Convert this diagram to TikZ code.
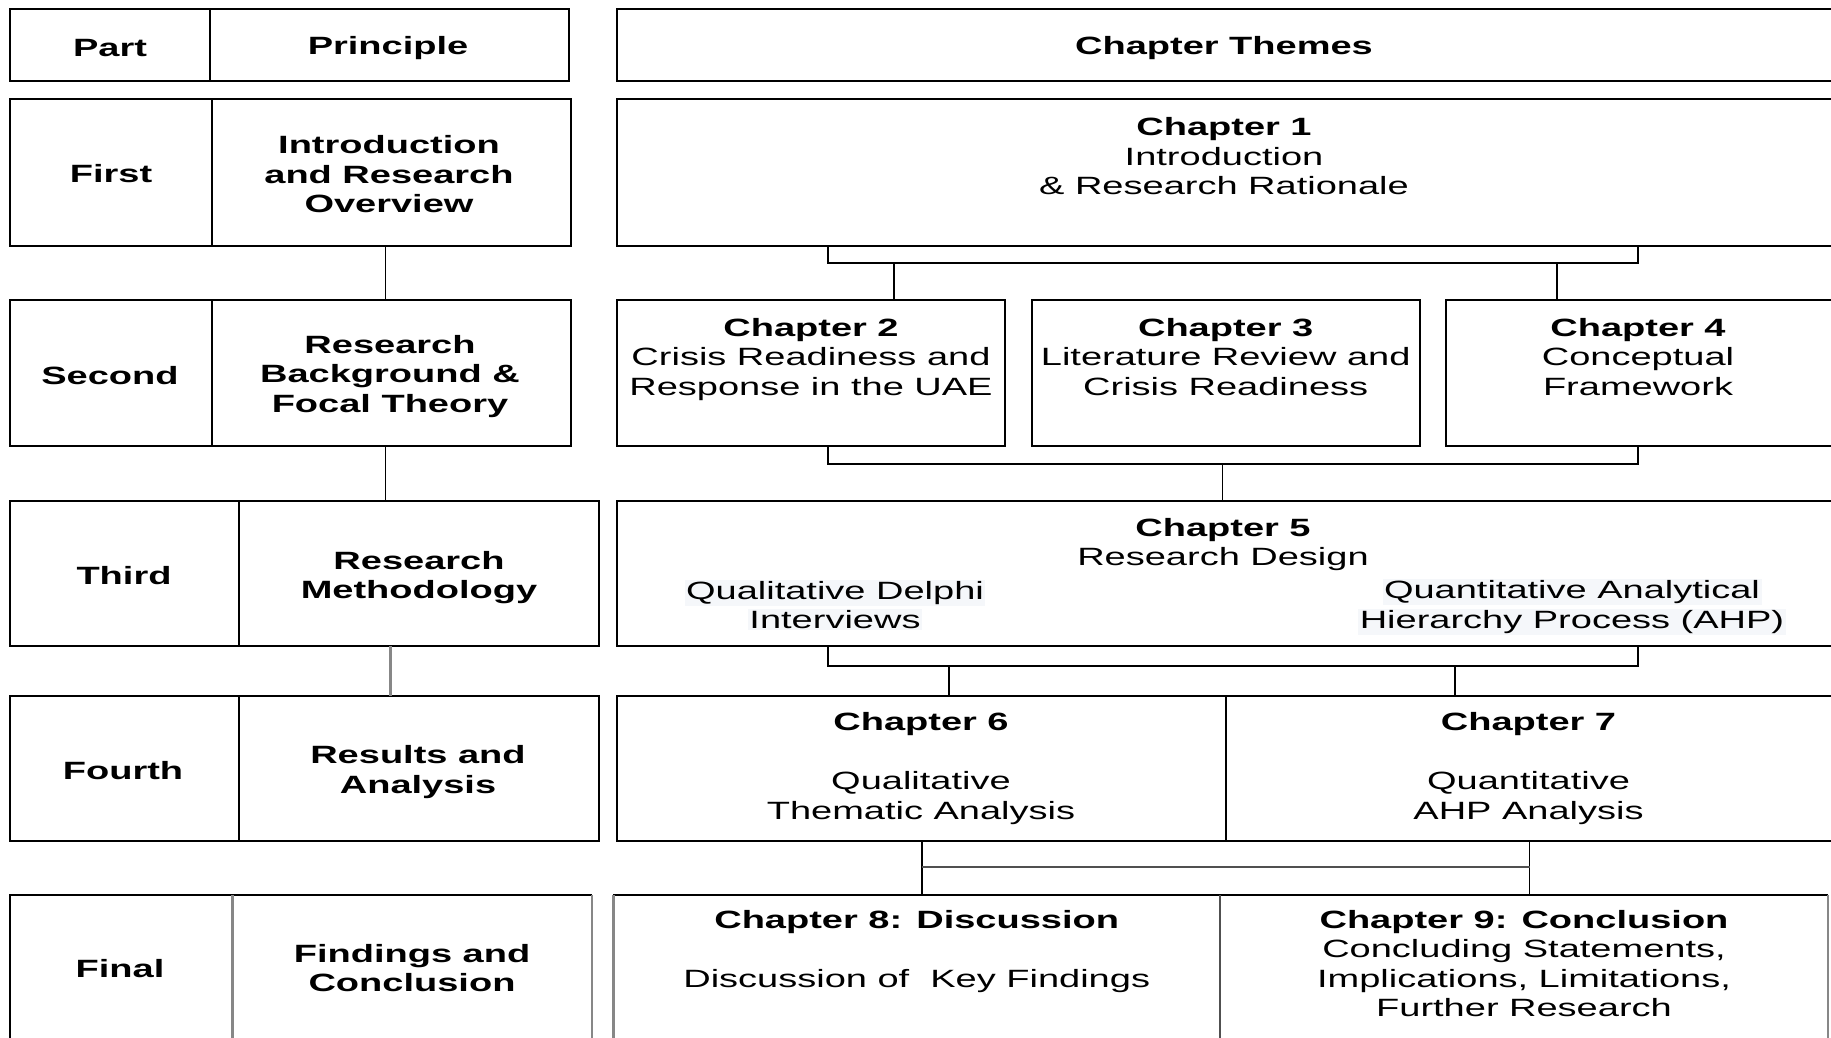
\documentclass[tikz,border=0pt]{standalone}
\usepackage{fontspec}
\setmainfont{Liberation Sans}[FakeStretch=1.52]
\usetikzlibrary{fit}
\definecolor{hl}{RGB}{245,247,250}
\definecolor{edgegrey}{RGB}{135,135,135}
\definecolor{darkedge}{RGB}{80,80,80}

\begin{document}
\begin{tikzpicture}[x=1pt,y=-1pt,
  cell/.style={draw=black, line width=2pt, inner sep=0pt, outer sep=0pt},
  bare/.style={inner sep=0pt, outer sep=0pt},
  txt/.style={align=center, inner sep=0pt, font=\fontsize{25}{29.5}\selectfont},
  btxt/.style={align=center, inner sep=0pt, font=\fontsize{25}{29.5}\selectfont\bfseries},
  link/.style={draw=black, line width=1.9pt},
  greylink/.style={draw=edgegrey, line width=3pt},
  cellline/.style={draw=black, line width=2pt},
  greyedge/.style={draw=edgegrey, line width=2.6pt},
  darkline/.style={draw=darkedge, line width=2.2pt}]

\useasboundingbox (0,0) rectangle (1831,1037);
\fill[white] (0,0) rectangle (1831,1037);
\clip (0,0) rectangle (1831,1037);
\setlength{\fboxsep}{1.5pt}

% ---------- header row ----------
\node[cell, fit={(9.5,9) (209.6,81)}] (hpart) {};
\node[cell, fit={(209.6,9) (569.4,81)}] (hprin) {};
\node[cell, fit={(617.3,9) (1845,81)}] (hthemes) {};
\node[btxt] (thpart) at (110,48) {Part};
\node[btxt] (thprin) at (388,48) {Principle};
\node[btxt] (ththemes) at (1224,48) {Chapter Themes};

% ---------- first part ----------
\node[cell, fit={(9.5,99) (212.3,246)}] (fpart) {};
\node[cell, fit={(212.3,99) (571.4,246)}] (fprin) {};
\node[cell, fit={(617.3,99) (1845,246)}] (ch1) {};
\node[btxt] (tfpart) at (111,174) {First};
\node[btxt] (tfprin) at (389,174.5) {Introduction\\and Research\\Overview};
\node[txt] (tch1) at (1224,156.5) {\textbf{Chapter 1}\\Introduction\\\& Research Rationale};

% ---------- second part ----------
\node[cell, fit={(9.5,300) (212.3,446)}] (spart) {};
\node[cell, fit={(212.3,300) (571.4,446)}] (sprin) {};
\node[cell, fit={(617.3,300) (1005,446)}] (ch2) {};
\node[cell, fit={(1031.8,300) (1419.6,446)}] (ch3) {};
\node[cell, fit={(1446.3,300) (1845,446)}] (ch4) {};
\node[btxt] (tspart) at (110,375.5) {Second};
\node[btxt] (tsprin) at (390,376.5) {Research\\Background \&\\Focal Theory};
\node[txt] (tch2) at (811,359.5) {\textbf{Chapter 2}\\Crisis Readiness and\\Response in the UAE};
\node[txt] (tch3) at (1225.7,357) {\textbf{Chapter 3}\\Literature Review and\\Crisis Readiness};
\node[txt] (tch4) at (1638,357) {\textbf{Chapter 4}\\Conceptual\\Framework};

% ---------- third part ----------
\node[cell, fit={(9.5,501) (239.2,646)}] (tpart) {};
\node[cell, fit={(239.2,501) (599,646)}] (tprin) {};
\node[cell, fit={(617.3,501) (1845,646)}] (ch5) {};
\node[btxt] (ttpart) at (124,575.5) {Third};
\node[btxt] (ttprin) at (419,577.5) {Research\\Methodology};
\node[txt] (tch5) at (1223,544.5) {\textbf{Chapter 5}\\Research Design};
\node[txt] (tqual) at (835,605) {\colorbox{hl}{Qualitative Delphi}\\\colorbox{hl}{Interviews}};
\node[txt] (tquant) at (1572,607) {\colorbox{hl}{Quantitative Analytical}\\\colorbox{hl}{Hierarchy Process (AHP)}};

% ---------- fourth part ----------
\node[cell, fit={(9.5,696) (239.2,841)}] (qpart) {};
\node[cell, fit={(239.2,696) (599,841)}] (qprin) {};
\node[cell, fit={(617.3,696) (1225.7,841)}] (ch6) {};
\node[cell, fit={(1225.7,696) (1845,841)}] (ch7) {};
\node[btxt] (tqpart) at (123,770.5) {Fourth};
\node[btxt] (tqprin) at (418,772) {Results and\\Analysis};
\node[txt] (tch6) at (921,768.5) {\textbf{Chapter 6}\\\mbox{}\\Qualitative\\Thematic Analysis};
\node[txt] (tch7) at (1528.5,768.5) {\textbf{Chapter 7}\\\mbox{}\\Quantitative\\AHP Analysis};

% ---------- final part ----------
\node[bare, fit={(9.5,895) (232.5,1060)}] (npart) {};
\node[bare, fit={(232.5,895) (592,1060)}] (nprin) {};
\node[bare, fit={(613.3,895) (1220.2,1060)}] (ch8) {};
\node[bare, fit={(1220.2,895) (1828,1060)}] (ch9) {};
\draw[cellline] (npart.south west) -- (npart.north west) -- (nprin.north east);
\draw[greyedge] (npart.north east) -- (npart.south east);
\draw[greyedge] (nprin.north east) -- (nprin.south east);
\draw[cellline] (ch8.north west) -- (ch9.north east);
\draw[greyedge] (ch8.north west) -- (ch8.south west);
\draw[darkline] (ch8.north east) -- (ch8.south east);
\draw[greyedge] (ch9.north east) -- (ch9.south east);
\node[btxt] (tnpart) at (120,969) {Final};
\node[btxt] (tnprin) at (412,968) {Findings and\\Conclusion};
\node[txt] (tch8) at (916.7,952) {\textbf{Chapter 8: Discussion}\\\mbox{}\\Discussion of~ Key Findings};
\node[txt] (tch9) at (1524,963.3) {\textbf{Chapter 9: Conclusion}\\Concluding Statements,\\Implications, Limitations,\\Further Research};

% ---------- part column connectors ----------
\coordinate (pa) at (385.5,0);
\coordinate (pb) at (390.7,0);
\draw[link] (fprin.south -| pa) -- (sprin.north -| pa);
\draw[link] (sprin.south -| pa) -- (tprin.north -| pa);
\draw[greylink] (tprin.south -| pb) -- (qprin.north -| pb);

% ---------- chapter connectors ----------
\coordinate (k1l) at (827.7,263.3);
\coordinate (k1r) at (1637.8,263.3);
\coordinate (d2) at (894.4,263.3);
\coordinate (d4) at (1557,263.3);
\draw[link] (ch1.south -| k1l) -- (k1l) -- (k1r) -- (ch1.south -| k1r);
\draw[link] (d2) -- (ch2.north -| d2);
\draw[link] (d4) -- (ch4.north -| d4);

\coordinate (k2l) at (827.7,464);
\coordinate (k2r) at (1637.8,464);
\coordinate (d5) at (1222.5,464);
\draw[link] (ch2.south -| k2l) -- (k2l) -- (k2r) -- (ch4.south -| k2r);
\draw[link] (d5) -- (ch5.north -| d5);

\coordinate (k3l) at (827.7,666);
\coordinate (k3r) at (1637.8,666);
\coordinate (d6) at (949.3,666);
\coordinate (d7) at (1454.9,666);
\draw[link] (ch5.south -| k3l) -- (k3l) -- (k3r) -- (ch5.south -| k3r);
\draw[link] (d6) -- (ch6.north -| d6);
\draw[link] (d7) -- (ch7.north -| d7);

\coordinate (m6) at (921.9,866.7);
\coordinate (m7) at (1529.5,866.7);
\draw[link] (ch6.south -| m6) -- (ch8.north -| m6);
\draw[link] (ch7.south -| m7) -- (ch9.north -| m7);
\draw[darkline] (m6) -- (m7);

\end{tikzpicture}
\end{document}
